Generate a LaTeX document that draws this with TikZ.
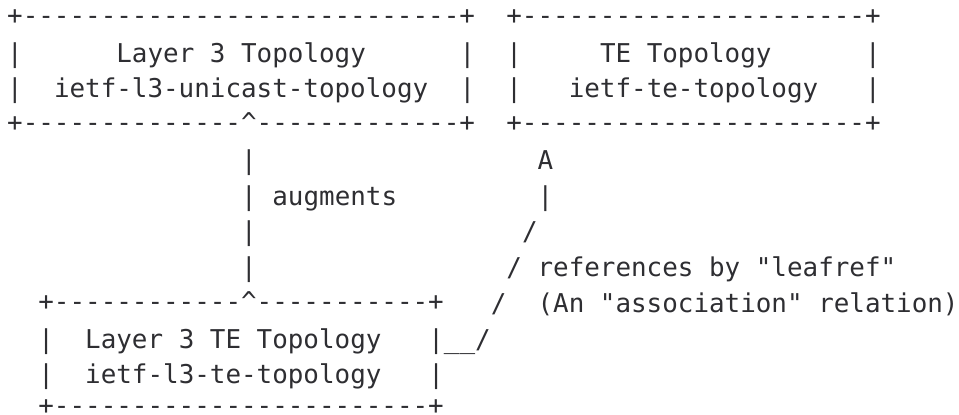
\documentclass[tikz,border=0pt]{standalone}
\usepackage{fontspec}
\setmonofont{DejaVu Sans Mono}
\definecolor{ink}{HTML}{2E2E32}
\ExplSyntaxOn
\cs_new:Npn \dashrun #1 { \prg_replicate:nn {#1} {-} }
\ExplSyntaxOff
% character grid: column pitch, row pitch, left edge of column 0, baseline of row 1
\def\colw{15.6}
\def\rowh{35.75}
\def\xorg{7.2}
\def\yorg{26.25}
\newcommand\glyphat[5][]{\node[glyphs,#1] (#2) at ({\xorg+#3*\colw},{-(\yorg+(#4-1)*\rowh)}) {#5};}
\begin{document}
\begin{tikzpicture}[x=1pt,y=1pt,
  glyphs/.style={inner sep=0pt, outer sep=0pt, anchor=base west, text=ink,
                 font=\ttfamily\fontsize{25.9}{26}\selectfont},
  rule/.style={yshift=2pt}]
\useasboundingbox (0,0) rectangle (959,-415);
% row 1
\glyphat[rule]{uTop}{0}{1}{+\dashrun{28}+}
\glyphat[rule]{teTop}{32}{1}{+\dashrun{22}+}
% row 2
\glyphat{uL2}{0}{2}{|}
\glyphat{uTitle}{7}{2}{Layer 3 Topology}
\glyphat{uR2}{29}{2}{|}
\glyphat{teL2}{32}{2}{|}
\glyphat{teTitle}{38}{2}{TE Topology}
\glyphat{teR2}{55}{2}{|}
% row 3
\glyphat{uL3}{0}{3}{|}
\glyphat{uModule}{3}{3}{ietf-l3-unicast-topology}
\glyphat{uR3}{29}{3}{|}
\glyphat{teL3}{32}{3}{|}
\glyphat{teModule}{36}{3}{ietf-te-topology}
\glyphat{teR3}{55}{3}{|}
% row 4
\glyphat[rule]{uBottom}{0}{4}{+\dashrun{14}\textasciicircum\dashrun{13}+}
\glyphat[rule]{teBottom}{32}{4}{+\dashrun{22}+}
% rows 5-8: the two links
\glyphat{aug5}{15}{5}{|}
\glyphat{refHead}{34}{5}{A}
\glyphat{aug6}{15}{6}{|}
\glyphat{augLabel}{17}{6}{augments}
\glyphat{ref6}{34}{6}{|}
\glyphat{aug7}{15}{7}{|}
\glyphat{ref7}{33}{7}{/}
\glyphat{aug8}{15}{8}{|}
\glyphat{ref8}{32}{8}{/}
\glyphat{refLabel}{34}{8}{references by "leafref"}
% row 9
\glyphat[rule]{lTop}{2}{9}{+\dashrun{12}\textasciicircum\dashrun{11}+}
\glyphat{ref9}{31}{9}{/}
\glyphat{refNote}{34}{9}{(An "association" relation)}
% rows 10-12: Layer 3 TE box
\glyphat{lL10}{2}{10}{|}
\glyphat{lTitle}{5}{10}{Layer 3 TE Topology}
\glyphat{lR10}{27}{10}{|\_\_/}
\glyphat{lL11}{2}{11}{|}
\glyphat{lModule}{5}{11}{ietf-l3-te-topology}
\glyphat{lR11}{27}{11}{|}
\glyphat[rule,yshift=2.6pt]{lBottom}{2}{12}{+\dashrun{24}+}
\end{tikzpicture}
\end{document}
